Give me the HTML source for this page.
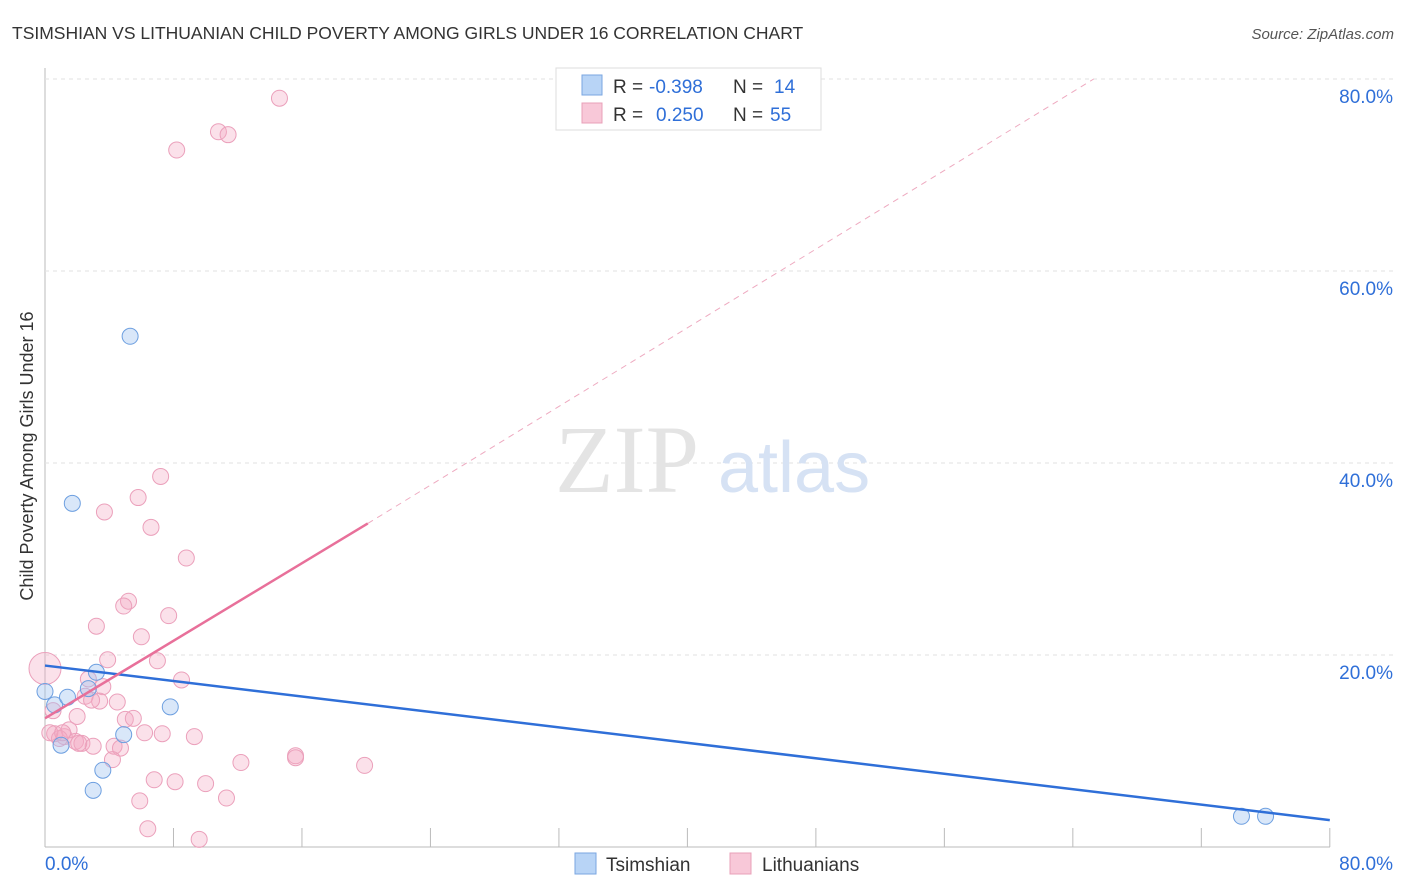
<!DOCTYPE html>
<html><head><meta charset="utf-8">
<style>
body{margin:0;background:#fff;font-family:"Liberation Sans",sans-serif;}
#wrap{position:relative;width:1406px;height:892px;overflow:hidden;}
</style></head>
<body>
<div id="wrap">
<svg id="svg" width="1406" height="892" xmlns="http://www.w3.org/2000/svg">
<text x="12" y="39" font-size="17.5" fill="#333">TSIMSHIAN VS LITHUANIAN CHILD POVERTY AMONG GIRLS UNDER 16 CORRELATION CHART</text>
<text x="1394" y="39" font-size="15" fill="#555" font-style="italic" text-anchor="end">Source: ZipAtlas.com</text>
<text transform="translate(33,456) rotate(-90)" font-size="18" fill="#333" text-anchor="middle">Child Poverty Among Girls Under 16</text>
<g id="grid"></g>
<text x="555" y="492" font-size="96" fill="#e4e4e4" font-family="Liberation Serif,serif">ZIP</text>
<text x="718" y="492" font-size="72" fill="#d6e2f4">atlas</text>
<g id="pts"></g>
<g id="lines"></g>
<g>
<rect x="556" y="68" width="265" height="62" fill="#fff" stroke="#ddd"/>
<rect x="582" y="75" width="20" height="20" fill="#b8d4f6" stroke="#7aa6e0"/>
<rect x="582" y="103" width="20" height="20" fill="#f8c8d8" stroke="#e8a0b8"/>
<text x="613" y="93" font-size="19" fill="#333">R =</text>
<text x="649" y="93" font-size="19" fill="#2f6fd8">-0.398</text>
<text x="733" y="93" font-size="19" fill="#333">N =</text>
<text x="774" y="93" font-size="19" fill="#2f6fd8">14</text>
<text x="613" y="121" font-size="19" fill="#333">R =</text>
<text x="656" y="121" font-size="19" fill="#2f6fd8">0.250</text>
<text x="733" y="121" font-size="19" fill="#333">N =</text>
<text x="770" y="121" font-size="19" fill="#2f6fd8">55</text>
</g>
<g>
<rect x="575" y="853" width="21" height="21" fill="#b8d4f6" stroke="#7aa6e0"/>
<text x="606" y="871" font-size="19" fill="#333">Tsimshian</text>
<rect x="730" y="853" width="21" height="21" fill="#f8c8d8" stroke="#e8a0b8"/>
<text x="762" y="871" font-size="19" fill="#333">Lithuanians</text>
</g>
</svg>
</div>
<script>
const xTicks=[0,10,20,30,40,50,60,70,80];
const yTicks=[20,40,60,80];
const blueX=[0,0.6,1.4,1.7,2.7,3.2,1.0,3.6,3.0,4.9,5.3,7.8,74.5,76.0];
const blueY=[16.2,14.8,15.6,35.8,16.5,18.2,10.6,8.0,5.9,11.7,53.2,14.6,3.2,3.2];
const pinkX=[0,14.6,8.2,10.8,11.4,7.2,5.8,3.7,6.6,8.8,5.2,4.9,7.7,3.2,6.0,3.9,7.0,8.5,2.7,3.6,2.5,3.4,4.5,5.0,5.5,2.0,0.5,0.6,1.2,1.5,0.9,1.9,2.3,3.0,4.3,4.7,6.2,7.3,9.3,4.2,12.2,15.6,15.6,19.9,6.8,8.1,10.0,5.9,11.3,6.4,9.6,0.3,1.1,2.1,2.9];
const pinkY=[18.6,78.0,72.6,74.5,74.2,38.6,36.4,34.9,33.3,30.1,25.6,25.1,24.1,23.0,21.9,19.5,19.4,17.4,17.5,16.7,15.7,15.2,15.1,13.3,13.4,13.6,14.2,11.8,11.5,12.2,11.3,11.0,10.8,10.5,10.5,10.3,11.9,11.8,11.5,9.1,8.8,9.5,9.3,8.5,7.0,6.8,6.6,4.8,5.1,1.9,0.8,11.9,11.9,10.8,15.3];
const blueLine=[[0,18.9],[80,2.8]];
const pinkLine=[[0,13.4],[20.1,33.7]];
const pinkDash=[[20.1,33.7],[65.3,80]];
const X=v=>45+v*16.06, Y=v=>847-v*9.6;
const NS="http://www.w3.org/2000/svg";
function mk(tag,attrs,parent){const e=document.createElementNS(NS,tag);for(const k in attrs)e.setAttribute(k,attrs[k]);document.getElementById(parent).appendChild(e);return e;}
mk('line',{x1:45,y1:68,x2:45,y2:847,stroke:'#bbb'},'grid');
mk('line',{x1:45,y1:847,x2:1330,y2:847,stroke:'#bbb'},'grid');
yTicks.forEach(t=>{
 const l=mk('line',{x1:45,y1:Y(t),x2:1394,y2:Y(t),stroke:'#e2e2e2','stroke-dasharray':'4,4'},'grid');
 
 
 const tx=mk('text',{x:1393,y:Y(t)+24,'font-size':19,fill:'#2f6fd8','text-anchor':'end'},'grid');tx.textContent=t.toFixed(1)+'%';
 
 
});
for(let i=0;i<=10;i++){const v=i*8;mk('line',{x1:X(v),y1:828,x2:X(v),y2:847,stroke:'#bbb'},'grid');}
[[0,'start',45],[80,'end',1393]].forEach(([v,a,px])=>{const t=mk('text',{x:px,y:870,'font-size':19,fill:'#2f6fd8','text-anchor':a},'grid');t.textContent=v.toFixed(1)+'%';
 
 });
pinkX.forEach((v,i)=>{const c=mk('circle',{cx:X(v),cy:Y(pinkY[i]),r:i==0?16:8,fill:'rgba(244,170,196,0.35)',stroke:'#eba0bb','stroke-width':1},'pts');
 
 });
blueX.forEach((v,i)=>{const c=mk('circle',{cx:X(v),cy:Y(blueY[i]),r:8,fill:'rgba(160,196,240,0.4)',stroke:'#6d9fe0','stroke-width':1},'pts');
 
 });
const bl=mk('line',{x1:X(blueLine[0][0]),y1:Y(blueLine[0][1]),x2:X(blueLine[1][0]),y2:Y(blueLine[1][1]),stroke:'#2f6fd8','stroke-width':2.5},'lines');


const pl=mk('line',{x1:X(pinkLine[0][0]),y1:Y(pinkLine[0][1]),x2:X(pinkLine[1][0]),y2:Y(pinkLine[1][1]),stroke:'#e8709a','stroke-width':2.5},'lines');


const pd=mk('line',{x1:X(pinkDash[0][0]),y1:Y(pinkDash[0][1]),x2:X(pinkDash[1][0]),y2:Y(pinkDash[1][1]),stroke:'#eeaac0','stroke-width':1,'stroke-dasharray':'6,5'},'lines');


</script>
</body></html>
